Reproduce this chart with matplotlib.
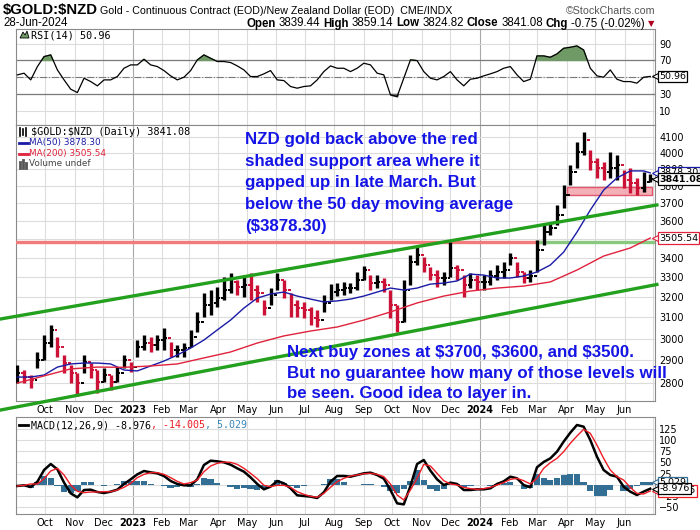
import pandas as pd
import matplotlib
matplotlib.use("Agg")
import matplotlib.pyplot as plt
import matplotlib.dates as mdates
import matplotlib.transforms as mtransforms
from matplotlib.lines import Line2D
from matplotlib.patches import Rectangle, Polygon
from matplotlib.ticker import FixedLocator, FuncFormatter, NullLocator

W, H = 700, 530

# weekly samples (Fridays)
weeks = pd.date_range("2022-09-02", periods=96, freq="7D")

close = [2844, 2826, 2813, 2902, 2979, 3040, 2960, 2888, 2844, 2800,
         2893, 2857, 2804, 2835, 2804, 2844, 2902, 2870, 2960, 2979,
         2970, 2993, 3002, 2947, 2947, 2956, 3007, 3078, 3160, 3170,
         3195, 3234, 3275, 3249, 3259, 3234, 3219, 3146, 3209, 3285,
         3234, 3160, 3146, 3136, 3097, 3087, 3170, 3224, 3234, 3244,
         3244, 3285, 3336, 3270, 3275, 3259, 3160, 3078, 3234, 3378,
         3414, 3362, 3310, 3295, 3295, 3346, 3336, 3259, 3285, 3275,
         3275, 3305, 3326, 3336, 3398, 3326, 3295, 3305, 3441, 3538,
         3560, 3633, 3747, 3884, 4006, 4081, 3945, 3908, 3884, 3908,
         3926, 3836, 3818, 3788, 3824, 3841.08]
high = [2880, 2857, 2835, 2938, 3016, 3063, 3007, 2924, 2880, 2844,
        2924, 2888, 2857, 2866, 2835, 2870, 2924, 2893, 2993, 3016,
        3007, 3016, 3049, 2984, 2970, 2979, 3040, 3126, 3219, 3234,
        3249, 3300, 3320, 3285, 3310, 3320, 3259, 3185, 3244, 3320,
        3285, 3219, 3185, 3175, 3150, 3136, 3209, 3264, 3270, 3275,
        3270, 3326, 3357, 3310, 3310, 3295, 3234, 3160, 3285, 3414,
        3457, 3404, 3352, 3336, 3326, 3484, 3362, 3310, 3320, 3310,
        3310, 3336, 3362, 3378, 3425, 3378, 3326, 3336, 3495, 3577,
        3594, 3690, 3806, 3926, 4068, 4132, 4018, 3969, 3945, 4006,
        3988, 3896, 3908, 3848, 3884, 3870]
low = [2800, 2800, 2779, 2866, 2902, 2960, 2916, 2844, 2800, 2744,
       2844, 2822, 2757, 2804, 2770, 2804, 2866, 2848, 2916, 2947,
       2938, 2947, 2947, 2916, 2916, 2916, 2960, 3030, 3102, 3111,
       3150, 3185, 3219, 3209, 3199, 3185, 3175, 3111, 3160, 3234,
       3195, 3102, 3102, 3097, 3063, 3054, 3126, 3185, 3204, 3209,
       3219, 3234, 3285, 3234, 3244, 3224, 3097, 3030, 3078, 3259,
       3362, 3326, 3285, 3249, 3259, 3300, 3285, 3199, 3244, 3234,
       3234, 3259, 3285, 3295, 3362, 3300, 3270, 3275, 3326, 3468,
       3522, 3577, 3672, 3806, 3908, 3988, 3896, 3848, 3836, 3848,
       3836, 3788, 3759, 3747, 3764, 3824.82]

# moving averages, every 2nd / 4th week plus the last day
ma50 = [2826, 2826, 2835, 2870, 2884, 2888, 2888, 2884, 2857, 2853,
        2875, 2897, 2924, 2956, 2993, 3040, 3087, 3145, 3194, 3214,
        3224, 3204, 3189, 3175, 3180, 3189, 3204, 3224, 3244, 3234,
        3244, 3264, 3269, 3280, 3315, 3310, 3295, 3295, 3305, 3326,
        3362, 3430, 3538, 3661, 3776, 3848, 3890, 3890, 3878.30]
ma200 = [2800, 2831, 2862, 2870, 2869, 2875, 2884, 2911, 2938, 2979,
         3012, 3035, 3054, 3087, 3126, 3170, 3204, 3229, 3244, 3254,
         3275, 3336, 3409, 3452, 3505.54]
ma50_dates = list(weeks[::2]) + [weeks[-1]]
ma200_dates = list(weeks[::4]) + [weeks[-1]]

rsi = [52.8, 54.8, 46.8, 62.7, 74.6, 76.6, 58.7, 46.8, 35.7, 31.7,
       48.8, 44.8, 39.7, 46.8, 46.8, 50.8, 60.7, 64.7, 64.7, 71.4,
       64.7, 62.7, 57.9, 51.6, 46.8, 50.0, 57.9, 70.6, 76.6, 72.6,
       68.7, 68.7, 67.5, 63.5, 58.7, 50.8, 50.8, 54.0, 57.9, 46.8,
       46.0, 38.9, 36.9, 38.9, 39.7, 46.8, 56.7, 63.5, 60.7, 60.7,
       56.7, 60.7, 66.7, 64.7, 54.8, 52.8, 29.0, 27.0, 48.8, 70.6,
       69.8, 56.7, 48.8, 46.8, 50.8, 56.7, 46.8, 39.7, 47.6, 48.8,
       51.6, 54.0, 56.7, 60.7, 62.7, 52.8, 44.8, 47.6, 75.4, 75.4,
       73.8, 77.8, 84.5, 85.7, 87.3, 82.5, 60.7, 51.6, 50.0, 58.7,
       47.6, 44.8, 44.8, 42.9, 50.0, 50.96]

macd = [-2.9, -1.4, -5.2, 6.8, 33.0, 46.4, 34.5, 4.6, -19.4, -28.3,
        -11.9, -11.1, -16.4, -18.6, -15.6, -11.1, 1.6, 12.0, 23.2, 30.7,
        27.7, 25.5, 19.5, 8.3, 1.6, -1.4, -1.4, 12.0, 44.2, 53.9,
        52.4, 50.1, 44.9, 36.7, 29.2, 16.5, 1.6, -10.4, -4.4, 8.3,
        3.1, -8.1, -23.8, -25.3, -26.8, -29.8, -17.1, 6.8, 19.5, 19.5,
        18.0, 21.7, 25.5, 27.0, 21.7, 13.5, -11.9, -41.8, -44.1, -2.9,
        46.4, 55.4, 31.5, 12.0, -0.7, 4.6, 1.6, -11.9, -11.9, -10.4,
        -10.4, -8.1, 1.6, 7.5, 18.0, 14.3, -0.7, -5.9, 39.0, 50.9,
        59.1, 74.0, 96.5, 116.6, 133.9, 130.1, 100.2, 62.9, 33.0, 21.7,
        18.0, -4.4, -15.6, -23.1, -15.6, -8.976]
signal = [-2.9, -1.4, 1.6, 1.6, 13.5, 30.7, 36.7, 21.7, -0.7, -14.9,
          -17.9, -16.4, -16.4, -15.6, -15.6, -11.9, -5.9, 3.1, 15.8, 23.2,
          27.0, 27.0, 23.2, 15.8, 7.5, 1.6, 4.6, 10.5, 29.2, 41.9,
          47.9, 50.9, 50.1, 45.6, 36.7, 25.5, 13.5, -1.4, -4.4, -1.4,
          -1.4, -5.9, -15.6, -21.6, -26.1, -28.3, -19.4, -5.9, 6.8, 14.3,
          19.5, 21.7, 24.7, 25.5, 23.2, 18.0, 1.6, -23.1, -34.2, -11.9,
          14.3, 45.6, 41.9, 25.5, 9.0, 1.6, -0.7, -5.9, -8.9, -10.4,
          -8.9, -5.9, -0.7, 4.6, 12.0, 14.3, 9.0, 1.6, 14.3, 36.7,
          49.4, 59.1, 74.0, 92.8, 109.2, 124.2, 115.2, 89.0, 59.1, 33.0,
          18.0, 10.5, -5.9, -19.4, -20.9, -14.005]

# drawn annotations
channel_dates = ["2022-08-15", "2024-07-05"]
upper_channel = [3092, 3690]
lower_channel = [2685, 3262]
support_level = 3485
support_turn = "2024-03-04"
zone_dates = ["2024-04-02", "2024-06-30"]
zone_prices = [3750, 3795]

BLUE_TXT = "#1414e6"
UP, DOWN = "black", "#cc1136"

fig = plt.figure(figsize=(7, 5.3), dpi=100)


def fx(x):
    return x / W


def fy(y):
    return 1 - y / H


def frame(l, t, r, b):
    return fig.add_axes([l / W, 1 - b / H, (r - l) / W, (b - t) / H])


ax_rsi = frame(16, 29, 655, 125)
ax = frame(16, 125, 655, 401)
ax_m = frame(16, 417, 655, 514)

xmin = mdates.date2num(pd.Timestamp("2022-08-31 12:00"))
xmax = mdates.date2num(pd.Timestamp("2024-07-03"))
months = pd.date_range("2022-10-01", "2024-06-01", freq="MS")
mlabels = [str(m.year) if m.month == 1 else m.strftime("%b") for m in months]

for a in (ax_rsi, ax, ax_m):
    a.set_xlim(xmin, xmax)
    for m in pd.date_range("2022-09-01", "2024-07-01", freq="MS"):
        a.axvline(mdates.date2num(m), color="#a8a8a8" if m.month == 1 else "#dcdcdc",
                  lw=0.8, zorder=0)
    for s in a.spines.values():
        s.set_color("#8a8a8a")
        s.set_linewidth(0.8)
    a.yaxis.tick_right()
    a.tick_params(length=0, labelsize=7, pad=3)
    a.set_xticks(mdates.date2num(months))
    a.grid(axis="y", color="#dcdcdc", lw=0.8)
    a.set_axisbelow(True)

ax_rsi.set_xticklabels([])
for a in (ax, ax_m):
    a.set_xticklabels(mlabels)
    for lab in a.get_xticklabels():
        if lab.get_text().isdigit():
            lab.set_fontweight("bold")

# ---- RSI panel
wd = mdates.date2num(weeks)
ax_rsi.set_ylim(-7, 107.5)
ax_rsi.set_yticks([10, 30, 50, 70, 90])
ax_rsi.plot(wd, rsi, color="black", lw=0.9, zorder=3)
ax_rsi.fill_between(wd, rsi, 70, where=[r > 70 for r in rsi], interpolate=True,
                    color="#6f9a66", zorder=2)
ax_rsi.fill_between(wd, rsi, 30, where=[r < 30 for r in rsi], interpolate=True,
                    color="#6a6a6a", zorder=2)
ax_rsi.axhline(70, color="#7a7a7a", lw=0.9, zorder=1)
ax_rsi.axhline(30, color="#7a7a7a", lw=0.9, zorder=1)
ax_rsi.axhline(50, color="#7a7a7a", lw=0.8, ls="-.", zorder=1)

# ---- price panel
ax.set_yscale("log")
ax.set_ylim(2723, 4177)
ax.yaxis.set_major_locator(FixedLocator(list(range(2800, 4200, 100))))
ax.yaxis.set_major_formatter(FuncFormatter(lambda v, _: f"{v:.0f}"))
ax.yaxis.set_minor_locator(NullLocator())

prev = [close[0]] + close[:-1]
cols = [UP if c >= p else DOWN for c, p in zip(close, prev)]
ax.vlines(wd, low, high, colors=cols, lw=2.4, zorder=4)
ax.hlines(prev, wd - 3, wd, colors=cols, lw=1.4, zorder=4)
ax.hlines(close, wd, wd + 3, colors=cols, lw=1.4, zorder=4)

ax.plot(mdates.date2num(ma50_dates), ma50, color="#1a1aa6", lw=1.0, zorder=5)
ax.plot(mdates.date2num(ma200_dates), ma200, color="#e0223c", lw=1.0, zorder=5)

cd = mdates.date2num(pd.to_datetime(channel_dates))
ax.plot(cd, upper_channel, color="#22a01e", lw=2.4, clip_on=False, zorder=6)
ax.plot(cd, lower_channel, color="#22a01e", lw=2.4, clip_on=False, zorder=6)

st = mdates.date2num(pd.Timestamp(support_turn))
ax.plot([xmin, st], [support_level] * 2, color="#f27a7a", lw=2.4, zorder=3)
ax.plot([st, xmax], [support_level] * 2, color="#88c97f", lw=2.4, zorder=3)

zd = mdates.date2num(pd.to_datetime(zone_dates))
ax.add_patch(Rectangle((zd[0], zone_prices[0]), zd[1] - zd[0], zone_prices[1] - zone_prices[0],
                       fc="#f2a2ab", ec="#e0405a", lw=1.0, alpha=0.85, zorder=3))

# ---- MACD panel
hist = [m - s for m, s in zip(macd, signal)]
ax_m.set_ylim(-65.7, 151.8)
ax_m.set_yticks([-50, -25, 0, 25, 50, 75, 100, 125])
ax_m.bar(wd, hist, width=6.6, color="#336e94", zorder=2)
ax_m.plot(wd, macd, color="black", lw=1.8, zorder=4)
ax_m.plot(wd, signal, color="#ee1c24", lw=1.0, zorder=5)


# ---- value tags on the right edge
def tag(a, val, text, ec, bold=False, z=10):
    tr = mtransforms.blended_transform_factory(a.transAxes, a.transData)
    a.plot([1.0], [val], marker="<", ms=5, mfc="white", mec=ec, mew=0.8,
           transform=tr, clip_on=False, zorder=z)
    a.text(1.0, val, text, transform=tr + mtransforms.ScaledTranslation(3 / 72, 0, fig.dpi_scale_trans),
           ha="left", va="center", fontsize=6.8, fontweight="bold" if bold else "normal",
           bbox=dict(boxstyle="square,pad=0.12", fc="white", ec=ec, lw=0.9),
           clip_on=False, zorder=z)


tag(ax_rsi, rsi[-1], "50.96", "black")
tag(ax, ma50[-1], "3878.30", "#1a1aa6", z=10)
tag(ax, close[-1], "3841.08", "black", bold=True, z=12)
tag(ax, ma200[-1], "3505.54", "#e0223c", z=10)
tag(ax_m, signal[-1], "-14.005", "#ee1c24", z=10)
tag(ax_m, hist[-1], "5.029", "#336e94", z=11)
tag(ax_m, macd[-1], "-8.976", "black", z=12)

# ---- legends inside panels
mono = "DejaVu Sans Mono"
fig.add_artist(Polygon([(fx(20), fy(38)), (fx(23), fy(32)), (fx(25), fy(35)), (fx(27), fy(31)),
                        (fx(29), fy(38))], closed=True, fc="#6f9a66", ec="black", lw=0.6))
fig.text(fx(31), fy(35), "RSI(14) 50.96", family=mono, fontsize=7.3, va="center")

for i, xx in enumerate([20, 23, 26]):
    fig.add_artist(Line2D([fx(xx), fx(xx)], [fy(128 + i % 2), fy(136 - i % 2)], color="black", lw=1.2))
fig.text(fx(31), fy(132), r"\$GOLD:\$NZD (Daily) 3841.08", family=mono, fontsize=7.3, va="center")
fig.add_artist(Line2D([fx(19), fx(28)], [fy(143), fy(143)], color="#1a1aa6", lw=2))
fig.text(fx(29), fy(143), "MA(50) 3878.30", fontsize=6.4, color="#1a1aa6", va="center")
fig.add_artist(Line2D([fx(19), fx(28)], [fy(154), fy(154)], color="#e0223c", lw=2))
fig.text(fx(29), fy(154), "MA(200) 3505.54", fontsize=6.4, color="#e0223c", va="center")
for xx, top in [(20, 162), (23, 160), (26, 163)]:
    fig.add_artist(Line2D([fx(xx), fx(xx)], [fy(top), fy(168)], color="#555555", lw=2))
fig.text(fx(29), fy(164), "Volume undef", fontsize=6.4, color="#444444", va="center")

fig.add_artist(Line2D([fx(19), fx(28)], [fy(425), fy(425)], color="black", lw=2))
x0 = fx(31)
r = fig.canvas.get_renderer()
for s, c in [("MACD(12,26,9) -8.976", "black"), (", -14.005", "#ee1c24"), (", 5.029", "#3a86b8")]:
    t = fig.text(x0, fy(425), s, family=mono, fontsize=7.2, color=c, va="center")
    x0 += t.get_window_extent(r).width / W

# ---- annotation text
note1 = ["NZD gold back above the red", "shaded support area where it",
         "gapped up in late March. But", "below the 50 day moving average", r"(\$3878.30)"]
for i, line in enumerate(note1):
    fig.text(fx(245), fy(144 + 21.7 * i), line, family="Liberation Sans", fontweight="bold",
             fontsize=12.2, color=BLUE_TXT, va="baseline")
note2 = [r"Next buy zones at \$3700, \$3600, and \$3500.",
         "But no guarantee how many of those levels will", "be seen. Good idea to layer in."]
for i, line in enumerate(note2):
    fig.text(fx(287), fy(357 + 20.7 * i), line, family="Liberation Sans", fontweight="bold",
             fontsize=12.2, color=BLUE_TXT, va="baseline")

# ---- header
sans = "Liberation Sans"
fig.text(fx(3), fy(14), r"\$GOLD:\$NZD", family=sans, fontweight="bold", fontsize=10.7, va="baseline")
fig.text(fx(100), fy(14), "Gold - Continuous Contract (EOD)/New Zealand Dollar (EOD)  CME/INDX",
         family=sans, fontsize=7.7, va="baseline")
fig.text(fx(655), fy(14), "\u00a9StockCharts.com", family=sans, fontsize=7.7, color="#555555",
         ha="right", va="baseline")
fig.text(fx(3), fy(26.5), "28-Jun-2024", family=sans, fontsize=8.3, va="baseline")

parts = [("Open", True), ("3839.44", False), ("High", True), ("3859.14", False),
         ("Low", True), ("3824.82", False), ("Close", True), ("3841.08", False),
         ("Chg", True), ("-0.75 (-0.02%)", False)]
widths = []
for s, b in parts:
    t = fig.text(0, 0, s, family=sans, fontsize=8.3, fontweight="bold" if b else "normal")
    widths.append(t.get_window_extent(r).width)
    t.remove()
gap = 3.0
xpos = 645 - (sum(widths) + gap * (len(parts) - 1))
for (s, b), w in zip(parts, widths):
    fig.text(fx(xpos), fy(26.5), s, family=sans, fontsize=8.3,
             fontweight="bold" if b else "normal", va="baseline")
    xpos += w + gap
fig.text(fx(648), fy(26.5), "\u25bc", fontsize=6, color="#b00020", va="baseline")

fig.savefig("out.png", dpi=100)
